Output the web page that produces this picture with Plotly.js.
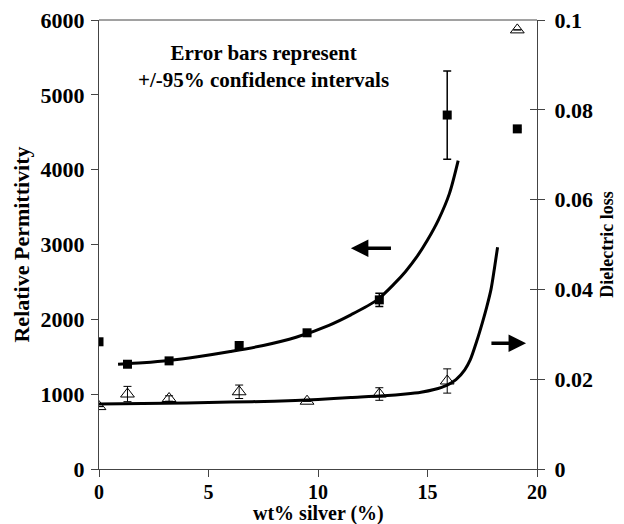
<!DOCTYPE html>
<html><head><meta charset="utf-8">
<script src="https://cdn.plot.ly/plotly-3.0.1.min.js"></script>
<style>html,body{margin:0;padding:0;background:#fff}#chart{width:624px;height:524px}</style>
</head><body><div id="chart"></div>
<script>
// Measured data: relative permittivity (left axis)
const permX = [0, 1.3, 3.2, 6.4, 9.5, 12.8, 15.9, 19.1];
const permY = [1700, 1400, 1445, 1650, 1820, 2260, 4730, 4545];
const permErr = [0, 40, 20, 50, 30, 90, 590, 0];
// Measured data: dielectric loss (right axis)
const lossX = [0, 1.3, 3.2, 6.4, 9.5, 12.8, 15.9, 19.1];
const lossY = [0.0139, 0.0167, 0.0157, 0.0172, 0.0151, 0.0167, 0.0196, 0.0978];
const lossErr = [0, 0.0017, 0.0006, 0.0015, 0, 0.0014, 0.0027, 0];
// Fitted curves
const permFitX = [0.87, 2, 3.2, 4.5, 6, 7.5, 9, 10.5, 11.5, 12.7, 13.5, 14.0, 14.5, 15.0, 15.5, 16.0, 16.4];
const permFitY = [1400, 1420, 1450, 1500, 1570, 1650, 1760, 1920, 2060, 2260, 2480, 2640, 2830, 3060, 3330, 3680, 4120];
const lossFitX = [0, 2, 4, 6, 8, 10, 11.5, 13, 14, 14.7, 15.3, 15.9, 16.3, 16.7, 16.95, 17.25, 17.5, 17.7, 17.9, 18.05, 18.2];
const lossFitY = [0.0145, 0.0146, 0.0147, 0.0149, 0.0151, 0.0155, 0.0159, 0.0163, 0.0167, 0.0171, 0.0177, 0.0187, 0.0199, 0.0221, 0.0243, 0.0285, 0.0325, 0.036, 0.040, 0.0445, 0.0494];
// Axis ticks
const xTicks = [0, 5, 10, 15, 20];
const yTicks = [0, 1000, 2000, 3000, 4000, 5000, 6000];
const y2Ticks = [0, 0.02, 0.04, 0.06, 0.08, 0.1];
const y2TickText = ['0', '0.02', '0.04', '0.06', '0.08', '0.1'];

const FONT = 'Liberation Serif, Times New Roman, serif';
const TICKFONT = {family: FONT, size: 22, color: '#000', weight: 'bold'};
const traces = [
  {x: permFitX, y: permFitY, mode: 'lines', line: {color: '#000', width: 3, shape: 'spline', smoothing: 0.8}, yaxis: 'y', hoverinfo: 'skip'},
  {x: lossFitX, y: lossFitY, mode: 'lines', line: {color: '#000', width: 3, shape: 'spline', smoothing: 0.8}, yaxis: 'y2', hoverinfo: 'skip'},
  {x: permX, y: permY, mode: 'markers', marker: {symbol: 'square', size: 9, color: '#000'},
   error_y: {type: 'data', array: permErr, visible: true, color: '#000', thickness: 1.5, width: 4}, yaxis: 'y'},
  {x: lossX, y: lossY, mode: 'markers', marker: {symbol: 'triangle-up-open', size: 12, color: '#000', line: {width: 1}},
   error_y: {type: 'data', array: lossErr, visible: true, color: '#000', thickness: 1, width: 4}, yaxis: 'y2'},
  {x: [0], y: [0], yaxis: 'y3', mode: 'markers', marker: {opacity: 0}, hoverinfo: 'skip'}
];

const layout = {
  width: 624, height: 524,
  margin: {l: 99, r: 87, t: 20, b: 55},
  paper_bgcolor: '#fff', plot_bgcolor: '#fff',
  showlegend: false,
  font: {family: FONT, color: '#000', size: 17},
  xaxis: {range: [0, 20], tickvals: xTicks, ticks: 'outside', ticklen: 7, tickcolor: '#444',
    showline: true, linecolor: '#444', linewidth: 1, showgrid: false, zeroline: false, mirror: false,
    tickfont: {family: FONT, size: 20, color: '#000', weight: 'bold'}, ticklabelstandoff: -2},
  yaxis: {range: [0, 6000], tickvals: yTicks, ticks: 'outside', ticklen: 7, tickcolor: '#444',
    showline: true, linecolor: '#444', linewidth: 1, showgrid: false, zeroline: false,
    tickfont: TICKFONT, ticklabelstandoff: 2,
    title: {text: '<b>Relative Permittivity</b>', font: {family: FONT, size: 22, color: '#000'}, standoff: 4}},
  yaxis2: {range: [0, 0.1], tickvals: y2Ticks, ticktext: y2TickText, overlaying: 'y', side: 'right', anchor: 'x',
    ticks: 'outside', ticklen: 7, tickcolor: '#444', showline: true, linecolor: '#444', linewidth: 1,
    showgrid: false, zeroline: false,
    tickfont: TICKFONT, ticklabelstandoff: 5,
    title: {text: '<b>Dielectric loss</b>', font: {family: FONT, size: 18, color: '#000'}, standoff: 8}},
  yaxis3: {range: [0, 0.1], tickvals: y2Ticks, overlaying: 'y', side: 'right', anchor: 'x',
    ticks: 'inside', ticklen: 7, tickcolor: '#444', showticklabels: false, showline: false,
    showgrid: false, zeroline: false},
  shapes: [
    {type: 'line', xref: 'paper', yref: 'paper', x0: 0, x1: 1, y0: 1, y1: 1, line: {color: '#444', width: 1}}
  ],
  annotations: [
    {x: 0.5, y: -0.098, xref: 'paper', yref: 'paper', xanchor: 'center', yanchor: 'middle', showarrow: false,
     text: '<b>wt% silver (%)</b>', font: {family: FONT, size: 20, color: '#000'}},
    {x: 7.5, y: 5380, xref: 'x', yref: 'y', showarrow: false, align: 'center',
     text: '<b>Error bars represent<br>+/-95% confidence intervals</b>', font: {family: FONT, size: 21, color: '#000'}},
    {x: 11.5, y: 2950, ax: 13.4, ay: 2950, xref: 'x', yref: 'y', axref: 'x', ayref: 'y', text: '', showarrow: true,
     arrowhead: 2, arrowsize: 1, arrowwidth: 3.5, arrowcolor: '#000'},
    {x: 19.5, y: 1680, ax: 17.85, ay: 1680, xref: 'x', yref: 'y', axref: 'x', ayref: 'y', text: '', showarrow: true,
     arrowhead: 2, arrowsize: 1, arrowwidth: 3.5, arrowcolor: '#000'}
  ]
};
Plotly.newPlot('chart', traces, layout, {displayModeBar: false, staticPlot: true});
</script></body></html>
